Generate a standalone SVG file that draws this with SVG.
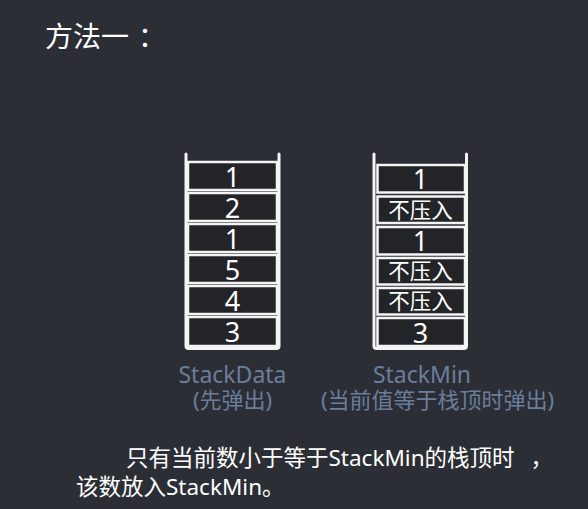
<svg xmlns="http://www.w3.org/2000/svg" width="588" height="509" viewBox="0 0 588 509">
  <style>
    text { font-family: "Noto Sans", "Noto Sans CJK SC", sans-serif; }
    .frame { fill: none; stroke: #f4f4f4; stroke-width: 3; stroke-linejoin: round; stroke-linecap: round; }
    .cell { fill: #222428; stroke: #f4f4f4; stroke-width: 2.5; }
    .num { fill: #ffffff; font-size: 27px; text-anchor: middle; }
    .cjk { fill: #ffffff; font-size: 21.5px; text-anchor: middle; }
    .label { fill: #6b7d9b; font-size: 23px; text-anchor: middle; }
    .sub { fill: #6b7d9b; font-size: 22px; text-anchor: middle; }
    .body { fill: #ffffff; font-size: 22.5px; }
  </style>
  <rect x="0" y="0" width="588" height="509" fill="#2b2e35"/>

  <g id="title">
    <text x="45" y="47" fill="#ffffff" font-size="28">方法一<tspan dx="9">：</tspan></text>
  </g>

  <g id="stack-data">
    <path class="frame" d="M186,154 V346 Q186,348.5 188.5,348.5 H276.5 Q279,348.5 279,346 V154"/>
    <rect class="cell" x="188" y="162" width="89" height="28"/>
    <rect class="cell" x="188" y="193" width="89" height="28"/>
    <rect class="cell" x="188" y="224" width="89" height="28"/>
    <rect class="cell" x="188" y="255" width="89" height="28"/>
    <rect class="cell" x="188" y="286" width="89" height="28"/>
    <rect class="cell" x="188" y="317" width="89" height="29"/>
    <text class="num" x="232.5" y="187">1</text>
    <text class="num" x="232.5" y="218">2</text>
    <text class="num" x="232.5" y="249">1</text>
    <text class="num" x="232.5" y="280">5</text>
    <text class="num" x="232.5" y="311">4</text>
    <text class="num" x="232.5" y="342">3</text>
  </g>

  <g id="stack-min">
    <path class="frame" d="M374,154 V346 Q374,348.5 376.5,348.5 H464 Q466.5,348.5 466.5,346 V154"/>
    <rect class="cell" x="377.5" y="165" width="87.5" height="27.5"/>
    <rect class="cell" x="377.5" y="196.5" width="87.5" height="26.5"/>
    <rect class="cell" x="377.5" y="227" width="87.5" height="27.5"/>
    <rect class="cell" x="377.5" y="258" width="87.5" height="26.5"/>
    <rect class="cell" x="377.5" y="288" width="87.5" height="26.5"/>
    <rect class="cell" x="377.5" y="318" width="87.5" height="28"/>
    <text class="num" x="420.5" y="189">1</text>
    <text class="cjk" x="420.5" y="218">不压入</text>
    <text class="num" x="420.5" y="251">1</text>
    <text class="cjk" x="420.5" y="279">不压入</text>
    <text class="cjk" x="420.5" y="309">不压入</text>
    <text class="num" x="420.5" y="343">3</text>
  </g>

  <g id="label-stackdata">
    <text class="label" x="232.5" y="383">StackData</text>
    <text class="sub" x="232.5" y="408">(先弹出)</text>
  </g>

  <g id="label-stackmin">
    <text class="label" x="422" y="383">StackMin</text>
    <text class="sub" x="437.5" y="408">(当前值等于栈顶时弹出)</text>
  </g>

  <g id="note">
    <text class="body" x="126" y="466">只有当前数小于等于StackMin的栈顶时<tspan dx="16">，</tspan></text>
    <text class="body" x="76" y="495">该数放入StackMin。</text>
  </g>

  <g id="connectors"/>
</svg>
